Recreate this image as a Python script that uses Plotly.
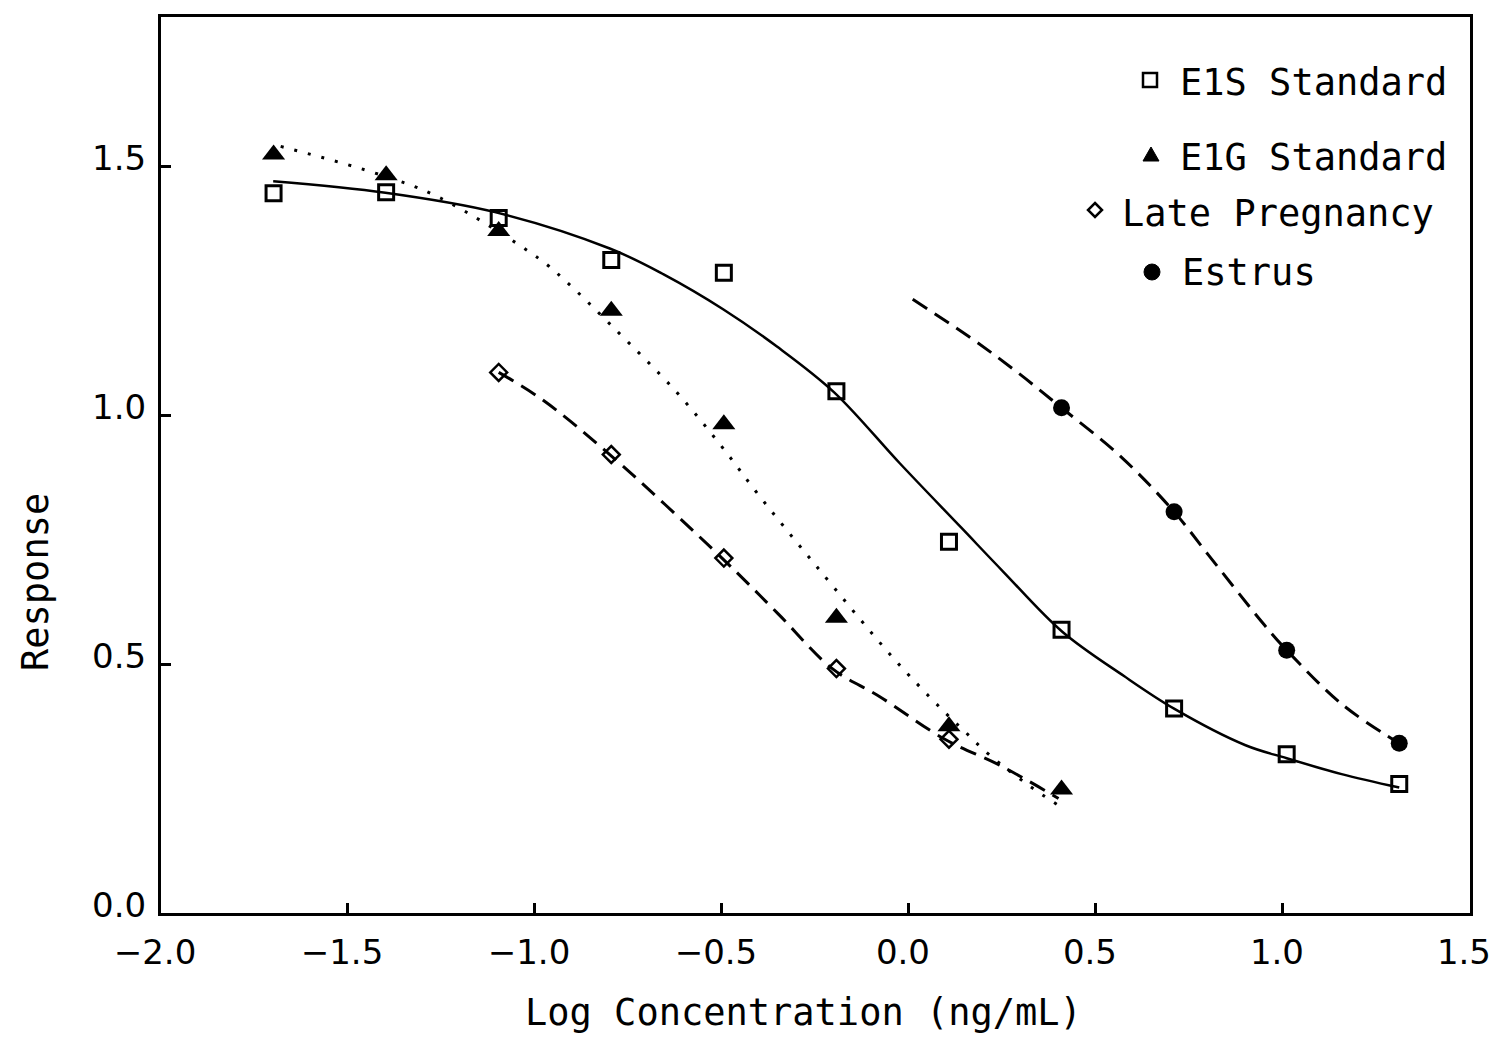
import plotly.graph_objects as go

# ---------------- data ----------------
log_conc = [-1.699, -1.398, -1.097, -0.796, -0.495, -0.194, 0.107, 0.408, 0.709, 1.010, 1.311]

e1s_x = log_conc
e1s_y = [1.446, 1.448, 1.396, 1.312, 1.286, 1.048, 0.746, 0.569, 0.411, 0.319, 0.259]

e1g_x = log_conc[:8]
e1g_y = [1.524, 1.482, 1.370, 1.210, 0.982, 0.593, 0.375, 0.248]

late_x = log_conc[2:7]
late_y = [1.086, 0.921, 0.713, 0.491, 0.349]

estrus_x = log_conc[7:]
estrus_y = [1.015, 0.806, 0.528, 0.341]

# fitted curves
e1s_fit_x = [-1.70, -1.40, -1.107, -0.80, -0.656, -0.497, -0.353, -0.20, -0.024, 0.14, 0.253, 0.41, 0.575, 0.71, 0.90, 1.01, 1.157, 1.311]
e1s_fit_y = [1.470, 1.447, 1.408, 1.335, 1.283, 1.213, 1.138, 1.046, 0.903, 0.774, 0.685, 0.565, 0.476, 0.410, 0.337, 0.311, 0.279, 0.252]

e1g_fit_x = [-1.68, -1.434, -1.26, -0.99, -0.92, -0.79, -0.627, -0.508, -0.396, -0.25, -0.044, 0.084, 0.146, 0.213, 0.321, 0.40]
e1g_fit_y = [1.540, 1.488, 1.439, 1.315, 1.271, 1.176, 1.051, 0.944, 0.834, 0.699, 0.514, 0.412, 0.367, 0.319, 0.256, 0.216]

late_fit_x = [-1.097, -0.978, -0.80, -0.50, -0.351, -0.205, -0.079, 0.096, 0.245, 0.40]
late_fit_y = [1.086, 1.030, 0.921, 0.713, 0.602, 0.491, 0.435, 0.349, 0.296, 0.230]

estrus_fit_x = [0.01, 0.16, 0.28, 0.408, 0.565, 0.709, 0.80, 0.95, 1.01, 1.16, 1.311]
estrus_fit_y = [1.233, 1.158, 1.092, 1.015, 0.918, 0.806, 0.720, 0.579, 0.528, 0.418, 0.341]

legend_labels = ["E1S Standard", "E1G Standard", "Late Pregnancy", "Estrus"]

x_ticks = [-2.0, -1.5, -1.0, -0.5, 0.0, 0.5, 1.0, 1.5]
y_ticks = [0.0, 0.5, 1.0, 1.5]

# ---------------- figure ----------------
MONO = "DejaVu Sans Mono"
SANS = "DejaVu Sans"
BLACK = "black"
SMOOTH = 1.0

fig = go.Figure()

# curves
fig.add_trace(go.Scatter(x=e1s_fit_x, y=e1s_fit_y, mode="lines", name="E1S fit",
                         line=dict(color=BLACK, width=2.5, shape="spline", smoothing=SMOOTH),
                         showlegend=False, hoverinfo="skip"))
fig.add_trace(go.Scatter(x=e1g_fit_x, y=e1g_fit_y, mode="lines", name="E1G fit",
                         line=dict(color=BLACK, width=3, dash="3px,11px", shape="spline", smoothing=SMOOTH),
                         showlegend=False, hoverinfo="skip"))
fig.add_trace(go.Scatter(x=late_fit_x, y=late_fit_y, mode="lines", name="Late Pregnancy fit",
                         line=dict(color=BLACK, width=3, dash="17px,9px", shape="spline", smoothing=SMOOTH),
                         showlegend=False, hoverinfo="skip"))
fig.add_trace(go.Scatter(x=estrus_fit_x, y=estrus_fit_y, mode="lines", name="Estrus fit",
                         line=dict(color=BLACK, width=3, dash="17px,9px", shape="spline", smoothing=SMOOTH),
                         showlegend=False, hoverinfo="skip"))

# markers
fig.add_trace(go.Scatter(x=e1s_x, y=e1s_y, mode="markers", name=legend_labels[0],
                         marker=dict(symbol="square-open", size=15, color=BLACK, line=dict(width=3, color=BLACK)),
                         showlegend=False))
fig.add_trace(go.Scatter(x=e1g_x, y=e1g_y, mode="markers", name=legend_labels[1],
                         marker=dict(symbol="triangle-up", size=20, color=BLACK),
                         showlegend=False))
fig.add_trace(go.Scatter(x=late_x, y=late_y, mode="markers", name=legend_labels[2],
                         marker=dict(symbol="diamond-open", size=13, color=BLACK, line=dict(width=2.5, color=BLACK)),
                         showlegend=False))
fig.add_trace(go.Scatter(x=estrus_x, y=estrus_y, mode="markers", name=legend_labels[3],
                         marker=dict(symbol="circle", size=17, color=BLACK),
                         showlegend=False))

# plot area in pixels
W, H = 1496, 1040
L, R, T, B = 161, 1470, 17, 913


def px(x):
    return (x - L) / (R - L)


def py(y):
    return (B - y) / (B - T)


# custom legend: symbols as shapes, labels as annotations
legend_rows = [
    # (marker x, marker y, text x, text y)
    (1150, 80, 1178, 82),
    (1151, 155, 1178, 157),
    (1095, 210, 1120, 213),
    (1152, 272, 1180, 272),
]
shape_common = dict(xref="paper", yref="paper", xsizemode="pixel", ysizemode="pixel")
(mx, my, _, _) = legend_rows[0]
fig.add_shape(type="rect", xanchor=px(mx), yanchor=py(my), x0=-7, x1=7, y0=-7, y1=7,
              line=dict(color=BLACK, width=2.5), fillcolor="rgba(0,0,0,0)", **shape_common)
(mx, my, _, _) = legend_rows[1]
fig.add_shape(type="path", xanchor=px(mx), yanchor=py(my), path="M -8,-6 L 8,-6 L 0,8 Z",
              line=dict(color=BLACK, width=1), fillcolor=BLACK, **shape_common)
(mx, my, _, _) = legend_rows[2]
fig.add_shape(type="path", xanchor=px(mx), yanchor=py(my), path="M 0,7 L 7,0 L 0,-7 L -7,0 Z",
              line=dict(color=BLACK, width=2.5), fillcolor="white", **shape_common)
(mx, my, _, _) = legend_rows[3]
fig.add_shape(type="circle", xanchor=px(mx), yanchor=py(my), x0=-8, x1=8, y0=-8, y1=8,
              line=dict(color=BLACK, width=1), fillcolor=BLACK, **shape_common)

for label, (_, _, tx, ty) in zip(legend_labels, legend_rows):
    fig.add_annotation(x=px(tx), y=py(ty), xref="paper", yref="paper", text=label,
                       showarrow=False, xanchor="left", yanchor="middle",
                       font=dict(family=MONO, size=37, color=BLACK))

# y-axis title placed as in the original (below centre)
fig.add_annotation(x=px(35), y=py(582), xref="paper", yref="paper", text="Response",
                   textangle=-90, showarrow=False, xanchor="center", yanchor="middle",
                   font=dict(family=MONO, size=37, color=BLACK))

# x-axis title placed as in the original (slightly left of centre)
fig.add_annotation(x=px(803), y=py(1012), xref="paper", yref="paper",
                   text="Log Concentration (ng/mL)", showarrow=False,
                   xanchor="center", yanchor="middle",
                   font=dict(family=MONO, size=37, color=BLACK))

axis_common = dict(showgrid=False, zeroline=False, showline=True, mirror=True,
                   linecolor=BLACK, linewidth=3, ticks="inside", ticklen=10, tickwidth=2.5,
                   tickcolor=BLACK, tickfont=dict(family=SANS, size=34, color=BLACK),
                   tickformat=".1f", ticklabeloverflow="allow", automargin=False)

fig.update_xaxes(range=[-2.0, 1.5002], tickvals=x_ticks, ticklabelstandoff=7,
                 ticklabelshift=-6, **axis_common)
fig.update_yaxes(range=[0.0, 1.8], tickvals=y_ticks, ticklabelstandoff=5,
                 ticklabelshift=-8, **axis_common)

fig.update_layout(width=W, height=H, margin=dict(l=L, r=W - R, t=T, b=H - B, autoexpand=False),
                  paper_bgcolor="white", plot_bgcolor="white", showlegend=False)

fig.write_html("out.html", config={"displayModeBar": False},
               post_script="document.body.style.margin='0';")
